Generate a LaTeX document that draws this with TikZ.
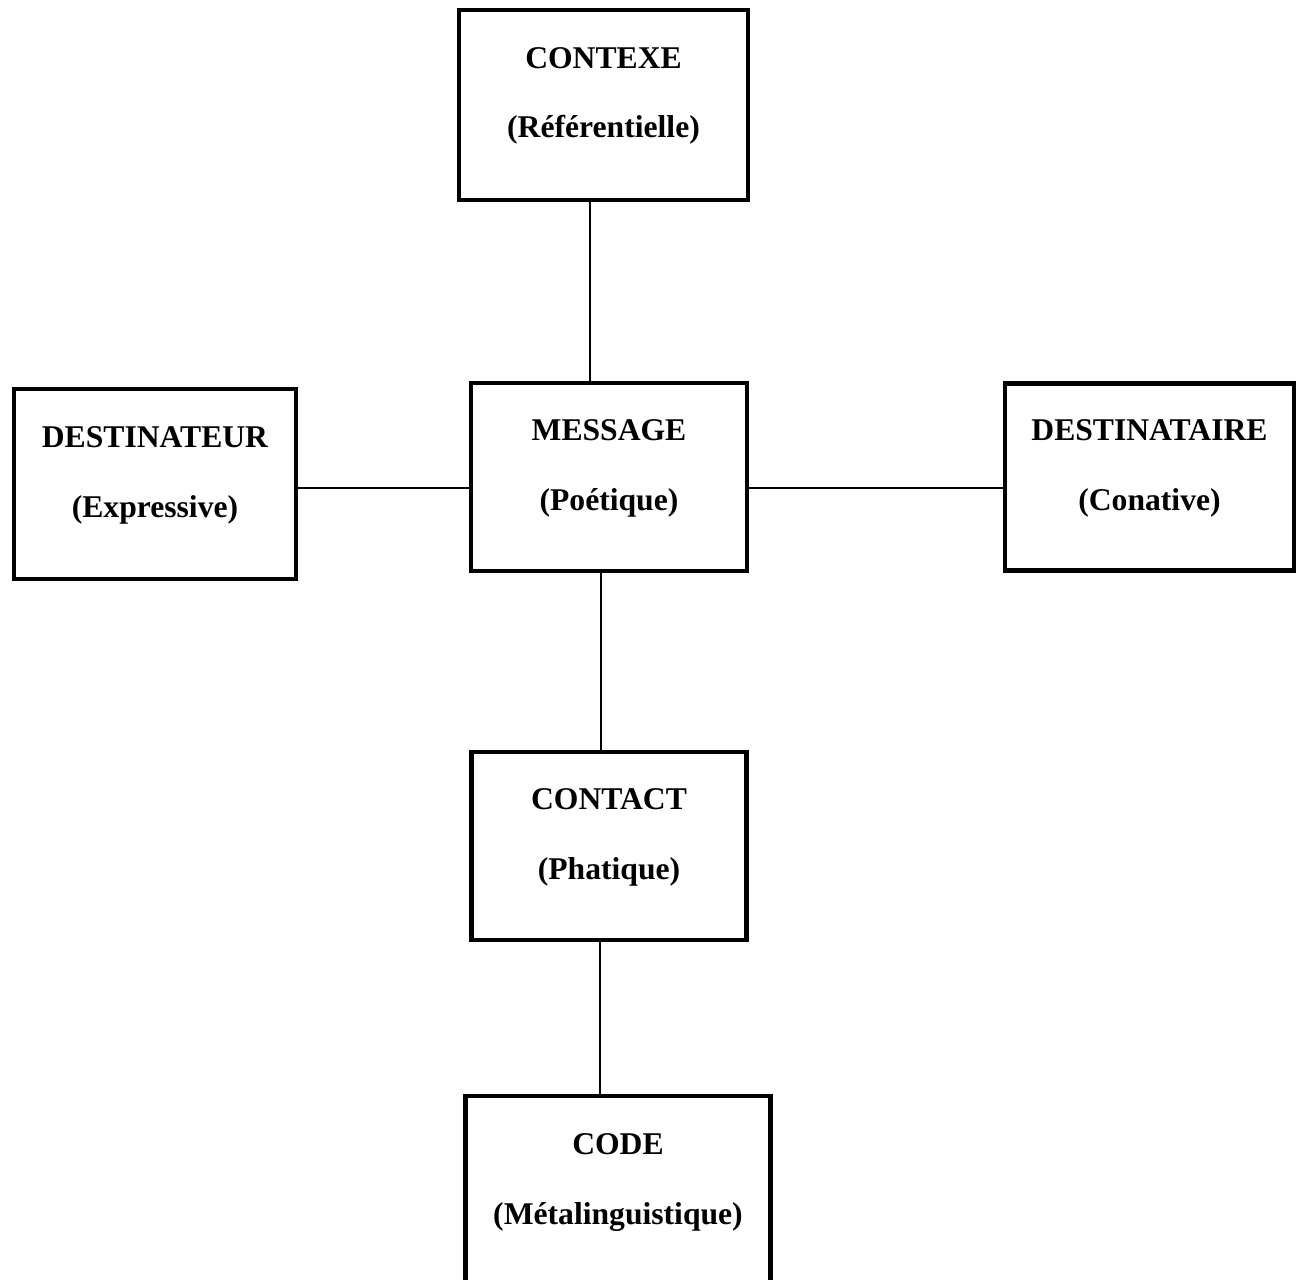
\documentclass[tikz,border=0pt]{standalone}
\usepackage{fontspec}
\setmainfont{Liberation Serif}
\usepackage{tikz}
\usetikzlibrary{positioning}
\tikzstyle{block}=[draw,fill=white,rectangle,line width=0.085cm,align=center,text height=1.9cm,text depth=0.58cm]
\tikzstyle{every node}=[font=\bfseries\fontsize{18}{21.6}\selectfont]
\tikzstyle{link}=[line width=0.04cm]

\begin{document}
\begin{tikzpicture}
            \useasboundingbox (-12.18,-16.06) rectangle (13.88,9.54);
            \node[block, minimum width=5.52cm, minimum height=3.76cm] (message) {MESSAGE\\[0.64cm](Poétique)};
            \node[block, above of=message, node distance=7.44cm, xshift=-0.11cm, minimum width=5.78cm, minimum height=3.80cm] (contexe) {CONTEXE\\[0.64cm](Référentielle)};
            \node[block, left of=message, node distance=9.08cm, yshift=-0.14cm, minimum width=5.64cm, minimum height=3.80cm] (destinateur) {DESTINATEUR\\[0.64cm](Expressive)};
            \node[block, right of=message, node distance=10.81cm, minimum width=5.78cm, minimum height=3.74cm] (destinataire) {DESTINATAIRE\\[0.64cm](Conative)};
            \node[block, below of=message, node distance=7.38cm, minimum width=5.50cm, minimum height=3.76cm] (contact) {CONTACT\\[0.64cm](Phatique)};
            \node[block, below of=contact, node distance=6.9cm, xshift=0.18cm, minimum width=6.10cm, minimum height=3.80cm] (code) {CODE\\[0.64cm](Métalinguistique)};
            \draw[link] ([xshift=-0.38cm]message.north) -- ([xshift=-0.38cm]message.north |- contexe.south);
            \draw[link] ([yshift=-0.22cm]message.west) -- ([yshift=-0.22cm]message.west -| destinateur.east);
            \draw[link] ([yshift=-0.22cm]message.east) -- ([yshift=-0.22cm]message.east -| destinataire.west);
            \draw[link] ([xshift=-0.16cm]message.south) -- ([xshift=-0.16cm]message.south |- contact.north);
            \draw[link] ([xshift=-0.18cm]contact.south) -- ([xshift=-0.18cm]contact.south |- code.north);
        \end{tikzpicture}
\end{document}
